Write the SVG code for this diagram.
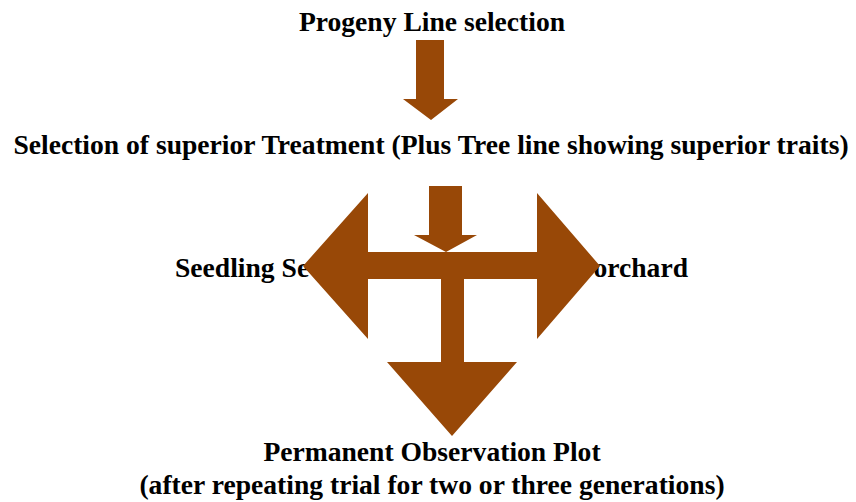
<svg xmlns="http://www.w3.org/2000/svg" width="856" height="502" viewBox="0 0 856 502">
<style>
text{font-family:"Liberation Serif","Times New Roman",serif;font-weight:bold;font-size:27.6px;fill:#000}
.arr{fill:#984807}
</style>
<rect width="856" height="502" fill="#fff"/>
<g id="n1"><text x="432" y="31" text-anchor="middle">Progeny Line selection</text></g>
<g id="n2"><text x="431" y="154" text-anchor="middle">Selection of superior Treatment (Plus Tree line showing superior traits)</text></g>
<g id="n3"><text x="175" y="277">Seedling Se</text></g>
<g id="n4"><text x="688" y="277" text-anchor="end">orchard</text></g>
<g id="n5"><text x="432" y="461" text-anchor="middle">Permanent Observation Plot</text><text x="432" y="494" text-anchor="middle">(after repeating trial for two or three generations)</text></g>
<g id="connectors">
<polygon class="arr" points="416,40 444,40 444,99 458,99 431,120 403,99 416,99"/>
<polygon class="arr" points="429,186 462,186 462,235 477,235 446,252 414,235 429,235"/>
<polygon class="arr" points="303,266 368,193 368,252 537,252 537,193 600,266 537,339 537,279 464,279 464,362 517,362 452,436 387,362 441,362 441,279 368,279 368,339"/>
</g>
</svg>
